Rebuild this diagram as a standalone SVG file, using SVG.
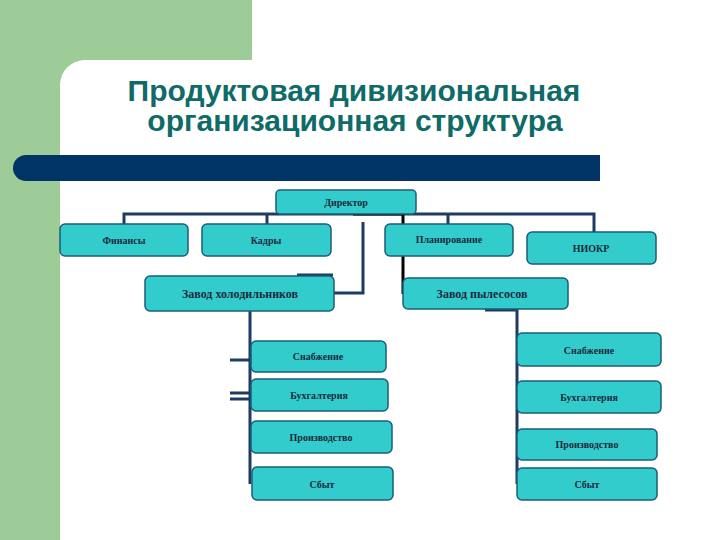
<svg xmlns="http://www.w3.org/2000/svg" width="720" height="540" viewBox="0 0 720 540">
<style>
.box{fill:#33CCCC;stroke:#1B5E78;stroke-width:1.5}
.t{font-family:"Liberation Serif","Times New Roman",serif;font-weight:bold;fill:#1B2A3C;text-anchor:middle}
.s{font-size:10px}
.m{font-size:12px}
.c{stroke:#1F3A64;stroke-width:3;fill:none}
.k{stroke:#000;stroke-width:3;fill:none}
.title{font-family:"Liberation Sans",Arial,sans-serif;font-weight:bold;font-size:30px;fill:#0E6B68;text-anchor:middle}
</style>
<rect width="720" height="540" fill="#fff"/>
<rect x="0" y="0" width="252" height="90" fill="#9ECC99"/>
<rect x="0" y="0" width="60" height="540" fill="#9ECC99"/>
<path d="M85 60 a25 25 0 0 0 -25 25 v455 h660 v-480 z" fill="#fff"/>
<path d="M26 155 H600 V181 H26 A13 13 0 0 1 26 155 z" fill="#003366"/>
<text class="title" x="354" y="101">Продуктовая дивизиональная</text>
<text class="title" x="355" y="131">организационная структура</text>
<g id="connectors">
<path class="c" d="M124 224 V214 H594 V232"/>
<path class="c" d="M267 214 V224"/>
<path class="c" d="M448 214 V224"/>
<path class="c" d="M363 222 V293 H334"/>
<path class="c" d="M297 275 H333"/>
<path class="k" d="M353 214 H403 V294"/>
<path class="c" d="M250 311 V484"/>
<path class="c" d="M230 360 H250"/>
<path class="c" d="M230 393 H250 M230 399 H250"/>
<path class="c" d="M485 310 H517 V484"/>
</g>
<g id="n-director"><rect class="box" x="276" y="190" width="140" height="24" rx="4"/><text class="t s" x="346" y="206">Директор</text></g>
<g id="n-finance"><rect class="box" x="60" y="224" width="128" height="32" rx="5"/><text class="t s" x="124" y="244">Финансы</text></g>
<g id="n-staff"><rect class="box" x="202" y="224" width="129" height="32" rx="5"/><text class="t s" x="266" y="244">Кадры</text></g>
<g id="n-plan"><rect class="box" x="385" y="224" width="128" height="32" rx="5"/><text class="t s" x="449" y="243">Планирование</text></g>
<g id="n-niokr"><rect class="box" x="527" y="232" width="129" height="32" rx="5"/><text class="t s" x="591" y="252">НИОКР</text></g>
<g id="n-fridge"><rect class="box" x="145" y="276" width="189" height="35" rx="5"/><text class="t m" x="240" y="298">Завод холодильников</text></g>
<g id="n-vacuum"><rect class="box" x="403" y="278" width="165" height="31" rx="5"/><text class="t m" x="482" y="298">Завод пылесосов</text></g>
<g id="n-l1"><rect class="box" x="251" y="341" width="135" height="31" rx="5"/><text class="t s" x="318" y="360">Снабжение</text></g>
<g id="n-l2"><rect class="box" x="251" y="379" width="137" height="32" rx="5"/><text class="t s" x="319" y="399">Бухгалтерия</text></g>
<g id="n-l3"><rect class="box" x="251" y="421" width="141" height="32" rx="5"/><text class="t s" x="321" y="441">Производство</text></g>
<g id="n-l4"><rect class="box" x="252" y="467" width="141" height="33" rx="5"/><text class="t s" x="322" y="488">Сбыт</text></g>
<g id="n-r1"><rect class="box" x="517" y="333" width="144" height="33" rx="5"/><text class="t s" x="589" y="354">Снабжение</text></g>
<g id="n-r2"><rect class="box" x="517" y="381" width="144" height="32" rx="5"/><text class="t s" x="589" y="401">Бухгалтерия</text></g>
<g id="n-r3"><rect class="box" x="517" y="429" width="140" height="31" rx="5"/><text class="t s" x="587" y="448">Производство</text></g>
<g id="n-r4"><rect class="box" x="517" y="468" width="140" height="32" rx="5"/><text class="t s" x="587" y="488">Сбыт</text></g>
</svg>
